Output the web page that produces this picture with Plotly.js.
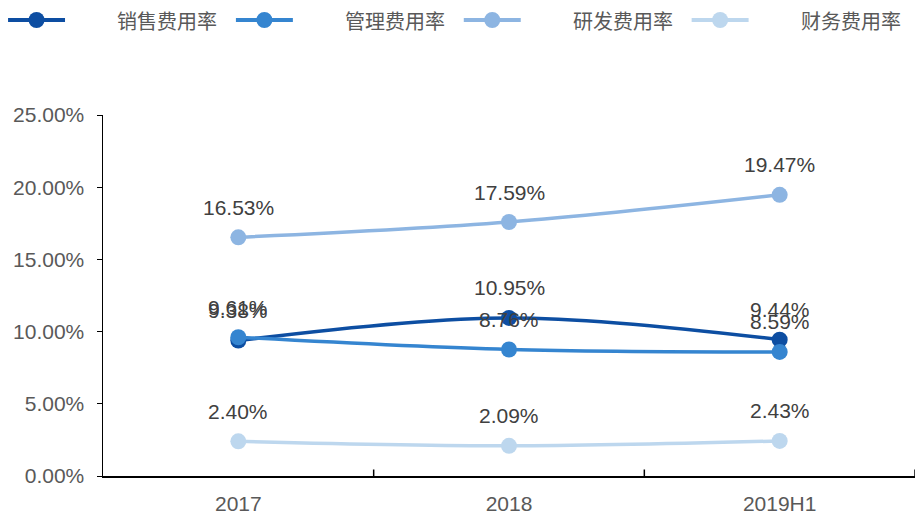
<!DOCTYPE html>
<html>
<head>
<meta charset="utf-8">
<script src="https://cdn.plot.ly/plotly-3.0.1.min.js"></script>
<style>html,body{margin:0;padding:0;background:#fff;}#chart{width:921px;height:516px;}</style>
</head>
<body>
<div id="chart"></div>
<script>
var categories = ['2017', '2018', '2019H1'];
var seriesNames = ['销售费用率', '管理费用率', '研发费用率', '财务费用率'];
var salesRate = [9.38, 10.95, 9.44];
var adminRate = [9.61, 8.76, 8.59];
var rdRate = [16.53, 17.59, 19.47];
var financeRate = [2.40, 2.09, 2.43];
var yTicks = [0, 5, 10, 15, 20, 25];

var colors = ['#0D4EA2', '#3585D0', '#8DB5E2', '#BDD7EE'];
var allSeries = [salesRate, adminRate, rdRate, financeRate];

// plot-area geometry (pixels) used to place the hand-drawn legend
var PL = 103, PW = 812.5, PT = 115, PH = 361;
function px2x(p) { return (p - PL) / PW; }
function py2y(p) { return (PT + PH - p) / PH; }

var traces = allSeries.map(function (vals, i) {
  return {
    type: 'scatter',
    mode: 'lines+markers',
    name: seriesNames[i],
    x: categories,
    y: vals.map(function (v) { return v / 100; }),
    line: {color: colors[i], width: 3.5, shape: 'spline', smoothing: 1},
    marker: {color: colors[i], size: 16},
    cliponaxis: false,
    showlegend: false
  };
});

var annotations = [];
allSeries.forEach(function (vals, i) {
  vals.forEach(function (v, j) {
    annotations.push({
      x: j, y: v / 100, xref: 'x', yref: 'y',
      text: v.toFixed(2) + '%', showarrow: false,
      yshift: 30,
      font: {family: 'Liberation Sans, Arial, sans-serif', size: 21, color: '#404040'}
    });
  });
});

var shapes = [0.5, 1.5, 2.5].map(function (b) {
  return {type: 'line', xref: 'x', yref: 'paper', x0: b, x1: b, y0: 0, y1: 0.018,
          line: {color: '#000000', width: 1.5}};
});

// legend (drawn manually to match spacing of the original)
var legendY = 20;
seriesNames.forEach(function (name, i) {
  var x0 = 8 + 228 * i, x1 = x0 + 57, xc = (x0 + x1) / 2;
  shapes.push({type: 'line', xref: 'paper', yref: 'paper',
    x0: px2x(x0), x1: px2x(x1), y0: py2y(legendY), y1: py2y(legendY),
    line: {color: colors[i], width: 4}});
  shapes.push({type: 'circle', xref: 'paper', yref: 'paper',
    x0: px2x(xc - 8), x1: px2x(xc + 8), y0: py2y(legendY - 8), y1: py2y(legendY + 8),
    fillcolor: colors[i], line: {width: 0}});
  annotations.push({xref: 'paper', yref: 'paper', x: px2x(x0 + 107), y: py2y(legendY),
    xanchor: 'left', yanchor: 'middle', showarrow: false, text: name,
    font: {family: 'Noto Sans CJK SC', size: 20, color: '#595959'}});
});

var layout = {
  width: 921,
  height: 516,
  margin: {l: PL, r: 921 - PL - PW, t: PT, b: 516 - PT - PH},
  paper_bgcolor: '#ffffff',
  plot_bgcolor: '#ffffff',
  showlegend: false,
  xaxis: {
    type: 'category',
    range: [-0.5, 2.5],
    showgrid: false,
    showline: true,
    linecolor: '#000000',
    linewidth: 1.5,
    ticks: '',
    ticklabelstandoff: 8,
    tickfont: {family: 'Liberation Sans, Arial, sans-serif', size: 21, color: '#595959'},
    zeroline: false
  },
  yaxis: {
    range: [0, 0.25],
    tickvals: yTicks.map(function (v) { return v / 100; }),
    ticktext: yTicks.map(function (v) { return v.toFixed(2) + '%'; }),
    showgrid: false,
    showline: true,
    linecolor: '#000000',
    linewidth: 1.5,
    ticks: 'outside',
    ticklen: 5,
    tickcolor: '#000000',
    ticklabelstandoff: 8,
    tickfont: {family: 'Liberation Sans, Arial, sans-serif', size: 21, color: '#595959'},
    zeroline: false
  },
  shapes: shapes,
  annotations: annotations
};

Plotly.newPlot('chart', traces, layout, {displayModeBar: false, staticPlot: true});
</script>
</body>
</html>
